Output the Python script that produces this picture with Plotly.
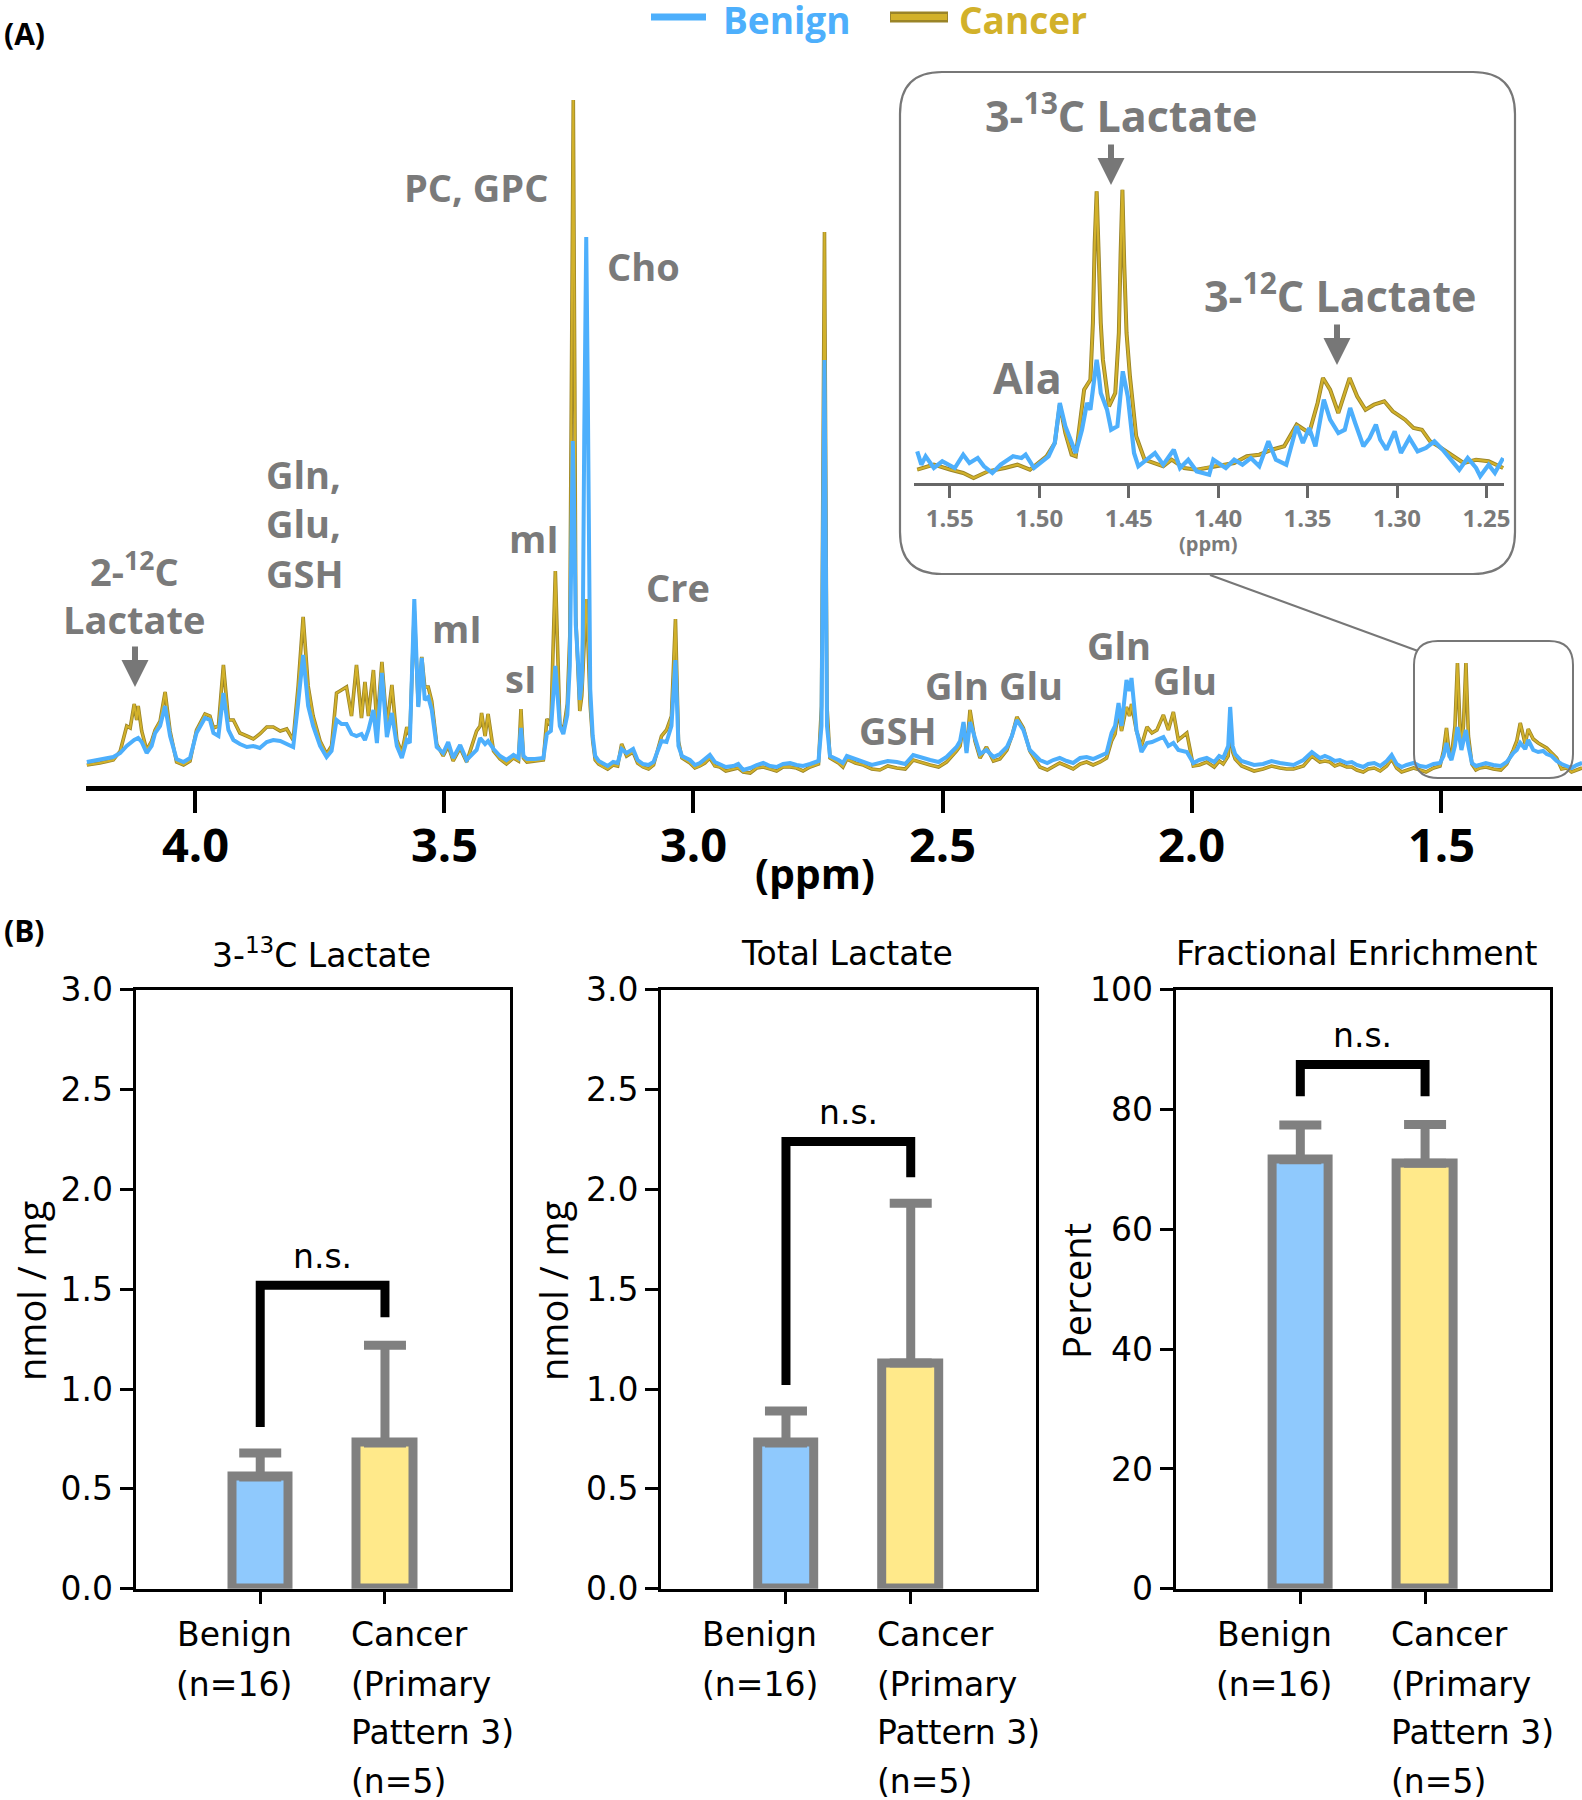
import plotly.graph_objects as go

W, H = 1582, 1800

# ---------------- data: 1H spectrum (ppm, intensity a.u.) ----------------
BENIGN_MAIN = [
    (4.217, 24), (4.191, 26), (4.164, 29), (4.150, 33), (4.137, 40), (4.122, 46), (4.114, 48), (4.107, 44),
    (4.097, 33), (4.087, 40), (4.080, 53), (4.070, 60), (4.060, 80), (4.050, 50), (4.037, 27), (4.023, 24),
    (4.010, 28), (3.997, 53), (3.980, 68), (3.970, 66), (3.963, 53), (3.953, 50), (3.943, 93), (3.933, 56),
    (3.923, 46), (3.910, 42), (3.896, 39), (3.883, 40), (3.870, 38), (3.856, 44), (3.843, 46), (3.829, 45),
    (3.816, 42), (3.803, 39), (3.793, 83), (3.783, 131), (3.773, 80), (3.763, 60), (3.749, 40), (3.736, 29),
    (3.726, 35), (3.716, 66), (3.706, 62), (3.696, 62), (3.686, 52), (3.676, 50), (3.666, 52), (3.659, 46),
    (3.652, 56), (3.642, 76), (3.635, 43), (3.625, 113), (3.615, 49), (3.605, 73), (3.595, 40), (3.585, 28),
    (3.575, 46), (3.569, 43), (3.560, 187), (3.552, 79), (3.545, 128), (3.539, 86), (3.532, 89), (3.525, 76),
    (3.515, 39), (3.502, 33), (3.492, 44), (3.482, 28), (3.468, 41), (3.455, 26), (3.435, 36),
    (3.428, 48), (3.418, 42), (3.412, 45), (3.401, 37), (3.388, 30), (3.375, 26), (3.361, 31), (3.351, 28),
    (3.346, 58), (3.341, 30), (3.334, 27), (3.318, 27), (3.301, 28), (3.294, 52), (3.286, 55), (3.277, 120),
    (3.268, 60), (3.261, 52), (3.253, 71), (3.248, 120), (3.244, 250), (3.242, 345), (3.240, 300), (3.236, 161),
    (3.231, 120), (3.228, 86), (3.224, 104), (3.222, 150), (3.219, 350), (3.215, 549), (3.212, 400), (3.207, 97),
    (3.202, 50), (3.197, 30), (3.190, 25), (3.181, 22), (3.172, 20), (3.161, 24), (3.152, 23), (3.144, 37),
    (3.134, 33), (3.121, 37), (3.112, 26), (3.101, 22), (3.090, 21), (3.080, 24), (3.064, 45), (3.054, 44),
    (3.044, 60), (3.036, 126), (3.030, 40), (3.023, 30), (3.007, 26), (2.997, 21), (2.987, 23), (2.977, 27),
    (2.967, 31), (2.957, 24), (2.947, 22), (2.935, 19), (2.920, 20), (2.910, 22), (2.900, 16), (2.886, 18),
    (2.873, 21), (2.860, 23), (2.846, 20), (2.833, 19), (2.820, 22), (2.806, 23), (2.793, 21), (2.780, 20),
    (2.766, 22), (2.749, 25), (2.743, 60), (2.737, 426), (2.732, 60), (2.726, 30), (2.709, 26), (2.700, 23),
    (2.692, 30), (2.675, 27), (2.659, 24), (2.642, 21), (2.626, 23), (2.610, 25), (2.592, 24), (2.575, 22),
    (2.559, 31), (2.540, 28), (2.525, 26), (2.508, 24), (2.492, 29), (2.472, 39), (2.465, 45), (2.458, 64),
    (2.452, 33), (2.445, 64), (2.435, 49), (2.425, 32), (2.412, 36), (2.398, 29), (2.385, 32), (2.371, 39),
    (2.361, 50), (2.351, 66), (2.338, 56), (2.325, 36), (2.305, 26), (2.290, 23), (2.278, 26), (2.265, 28),
    (2.251, 25), (2.238, 23), (2.224, 28), (2.211, 29), (2.198, 27), (2.184, 30), (2.171, 33), (2.161, 53),
    (2.154, 60), (2.147, 83), (2.141, 60), (2.131, 106), (2.125, 95), (2.121, 108), (2.111, 56), (2.101, 34),
    (2.090, 43), (2.080, 44), (2.070, 46), (2.057, 49), (2.047, 40), (2.037, 43), (2.027, 36), (2.010, 34),
    (1.997, 23), (1.985, 26), (1.970, 28), (1.955, 24), (1.945, 30), (1.937, 28), (1.927, 40), (1.923, 79),
    (1.918, 40), (1.913, 32), (1.900, 25), (1.890, 23), (1.875, 21), (1.857, 22), (1.840, 25), (1.823, 23),
    (1.810, 22), (1.796, 21), (1.776, 26), (1.759, 34), (1.743, 28), (1.733, 30), (1.723, 28), (1.713, 25),
    (1.703, 26), (1.689, 23), (1.679, 24), (1.669, 21), (1.656, 19), (1.646, 22), (1.634, 23), (1.622, 20),
    (1.609, 25), (1.599, 31), (1.589, 22), (1.579, 19), (1.569, 21), (1.555, 23), (1.542, 20), (1.530, 19),
    (1.515, 22), (1.502, 23), (1.495, 30), (1.489, 43), (1.483, 30), (1.479, 26), (1.472, 40), (1.467, 59),
    (1.462, 45), (1.459, 36), (1.455, 45), (1.450, 56), (1.445, 40), (1.438, 23), (1.430, 20), (1.422, 21),
    (1.410, 23), (1.395, 21), (1.380, 20), (1.368, 24), (1.355, 33), (1.348, 36), (1.341, 43), (1.331, 37),
    (1.325, 46), (1.315, 36), (1.305, 34), (1.295, 35), (1.288, 32), (1.278, 30), (1.268, 25), (1.258, 22),
    (1.248, 20), (1.238, 18), (1.228, 21), (1.217, 23),
]

CANCER_MAIN = [
    (4.217, 21), (4.191, 23), (4.164, 26), (4.150, 35), (4.137, 60), (4.130, 58), (4.122, 82), (4.117, 66),
    (4.114, 80), (4.107, 55), (4.097, 36), (4.087, 45), (4.080, 56), (4.070, 65), (4.060, 94), (4.050, 55),
    (4.037, 24), (4.023, 21), (4.010, 25), (3.997, 56), (3.980, 72), (3.970, 70), (3.963, 58), (3.953, 60),
    (3.943, 121), (3.933, 66), (3.923, 66), (3.910, 53), (3.896, 50), (3.883, 47), (3.870, 52), (3.856, 59),
    (3.843, 59), (3.829, 55), (3.816, 57), (3.803, 46), (3.793, 100), (3.783, 169), (3.773, 100), (3.763, 70),
    (3.749, 45), (3.736, 32), (3.726, 40), (3.716, 93), (3.706, 96), (3.696, 99), (3.686, 70), (3.676, 121),
    (3.666, 68), (3.659, 104), (3.652, 70), (3.642, 116), (3.635, 60), (3.625, 124), (3.615, 60), (3.605, 101),
    (3.595, 46), (3.585, 33), (3.575, 59), (3.569, 50), (3.560, 175), (3.552, 80), (3.545, 129), (3.539, 99),
    (3.532, 99), (3.525, 85), (3.515, 42), (3.502, 30), (3.492, 40), (3.482, 25), (3.468, 38), (3.455, 24),
    (3.435, 55), (3.428, 60), (3.425, 73), (3.418, 50), (3.412, 72), (3.405, 45), (3.401, 35), (3.388, 27),
    (3.375, 22), (3.361, 28), (3.351, 25), (3.346, 77), (3.341, 28), (3.334, 24), (3.318, 25), (3.301, 26),
    (3.294, 67), (3.286, 60), (3.277, 215), (3.268, 62), (3.261, 55), (3.253, 82), (3.248, 150), (3.244, 450),
    (3.241, 686), (3.238, 400), (3.236, 169), (3.231, 110), (3.228, 75), (3.224, 90), (3.219, 150), (3.215, 187),
    (3.212, 150), (3.207, 80), (3.202, 45), (3.197, 26), (3.190, 22), (3.181, 19), (3.172, 17), (3.161, 21),
    (3.152, 20), (3.144, 42), (3.134, 30), (3.121, 34), (3.112, 23), (3.101, 19), (3.090, 17), (3.080, 21),
    (3.064, 50), (3.054, 56), (3.044, 70), (3.036, 167), (3.030, 45), (3.023, 28), (3.007, 23), (2.997, 18),
    (2.987, 20), (2.977, 23), (2.967, 28), (2.957, 20), (2.947, 19), (2.935, 15), (2.920, 17), (2.910, 18),
    (2.900, 14), (2.886, 13), (2.873, 18), (2.860, 19), (2.846, 17), (2.833, 15), (2.820, 19), (2.806, 19),
    (2.793, 18), (2.780, 15), (2.766, 19), (2.749, 22), (2.743, 80), (2.737, 554), (2.732, 80), (2.726, 28),
    (2.709, 23), (2.700, 19), (2.692, 27), (2.675, 23), (2.659, 21), (2.642, 17), (2.626, 16), (2.610, 20),
    (2.592, 18), (2.575, 17), (2.559, 26), (2.540, 23), (2.525, 21), (2.508, 19), (2.492, 24), (2.472, 35),
    (2.465, 40), (2.458, 62), (2.452, 35), (2.445, 76), (2.435, 45), (2.425, 28), (2.412, 39), (2.398, 25),
    (2.385, 27), (2.371, 36), (2.361, 50), (2.351, 69), (2.338, 58), (2.325, 35), (2.305, 19), (2.290, 16),
    (2.278, 19), (2.265, 23), (2.251, 20), (2.238, 17), (2.224, 22), (2.211, 24), (2.198, 21), (2.184, 24),
    (2.171, 28), (2.161, 45), (2.154, 52), (2.147, 76), (2.141, 55), (2.131, 79), (2.125, 70), (2.121, 82),
    (2.111, 55), (2.101, 40), (2.090, 59), (2.080, 53), (2.070, 56), (2.057, 71), (2.047, 56), (2.037, 74),
    (2.027, 46), (2.010, 53), (1.997, 20), (1.985, 21), (1.970, 24), (1.955, 19), (1.945, 25), (1.937, 22),
    (1.927, 30), (1.923, 66), (1.918, 34), (1.913, 27), (1.900, 20), (1.890, 18), (1.875, 15), (1.857, 17),
    (1.840, 20), (1.823, 18), (1.810, 17), (1.796, 17), (1.776, 20), (1.759, 30), (1.743, 24), (1.733, 25),
    (1.723, 24), (1.713, 20), (1.703, 22), (1.689, 19), (1.679, 19), (1.669, 16), (1.656, 14), (1.646, 17),
    (1.634, 18), (1.622, 15), (1.609, 20), (1.599, 27), (1.589, 18), (1.579, 14), (1.569, 16), (1.555, 18),
    (1.542, 16), (1.530, 14), (1.515, 18), (1.502, 20), (1.495, 35), (1.489, 58), (1.483, 30), (1.479, 30),
    (1.472, 60), (1.467, 123), (1.462, 60), (1.459, 42), (1.455, 60), (1.450, 123), (1.445, 50), (1.438, 22),
    (1.430, 16), (1.422, 18), (1.410, 19), (1.395, 17), (1.380, 16), (1.368, 22), (1.355, 36), (1.348, 45),
    (1.341, 63), (1.331, 42), (1.325, 57), (1.315, 47), (1.305, 43), (1.295, 40), (1.288, 38), (1.278, 33),
    (1.268, 28), (1.258, 17), (1.248, 18), (1.238, 14), (1.228, 16), (1.217, 18),
]

BENIGN_INSET = [
    (1.5682, 31.7), (1.5659, 18.3), (1.5635, 26.7), (1.5589, 15), (1.5542, 21.7), (1.5507, 18.3), (1.5472, 15),
    (1.5425, 28.3), (1.5390, 20), (1.5344, 25), (1.5309, 16.7), (1.5262, 10), (1.5216, 18.3), (1.5146, 26.7),
    (1.5099, 25), (1.5076, 28.3), (1.5029, 15), (1.4983, 21.7), (1.4948, 26.7), (1.4913, 40), (1.4885, 80),
    (1.4854, 56.7), (1.4819, 40), (1.4796, 30), (1.4761, 53.3), (1.4733, 80), (1.4714, 73.3), (1.4690, 105),
    (1.4679, 123.3), (1.4668, 110), (1.4656, 90), (1.4621, 73.3), (1.4598, 53.3), (1.4563, 56.7), (1.4533, 111.7),
    (1.4505, 86.7), (1.4470, 30), (1.4446, 16.7), (1.4400, 23.3), (1.4353, 30), (1.4307, 18.3), (1.4248, 33.3),
    (1.4213, 15), (1.4167, 23.3), (1.4120, 11.7), (1.4050, 8.3), (1.4027, 23.3), (1.3957, 15), (1.3910, 23.3),
    (1.3864, 18.3), (1.3817, 25), (1.3770, 16.7), (1.3719, 41.7), (1.3677, 23.3), (1.3619, 18.3), (1.3561, 56.7),
    (1.3526, 40), (1.3491, 55), (1.3456, 36.7), (1.3409, 83.3), (1.3374, 63.3), (1.3328, 50), (1.3292, 53.3),
    (1.3262, 75), (1.3234, 60), (1.3188, 36.7), (1.3153, 45), (1.3118, 58.3), (1.3094, 43.3), (1.3059, 33.3),
    (1.3013, 51.7), (1.2978, 30), (1.2931, 45), (1.2885, 31.7), (1.2838, 35), (1.2791, 41.7), (1.2745, 33.3),
    (1.2698, 23.3), (1.2652, 13.3), (1.2605, 25), (1.2558, 15), (1.2535, 6.7), (1.2488, 18.3), (1.2453, 10),
    (1.2407, 25),
]

CANCER_INSET = [
    (1.5682, 13.3), (1.5589, 18.3), (1.5495, 13.3), (1.5425, 10), (1.5367, 5), (1.5286, 11.7), (1.5192, 15),
    (1.5122, 18.3), (1.5052, 13.3), (1.4959, 26.7), (1.4913, 40), (1.4885, 78.3), (1.4854, 50), (1.4819, 28.3),
    (1.4796, 26.7), (1.4749, 93.3), (1.4714, 103.3), (1.4700, 160), (1.4690, 240), (1.4679, 291.7), (1.4668, 230),
    (1.4656, 160), (1.4644, 123.3), (1.4610, 76.7), (1.4575, 90), (1.4555, 150), (1.4545, 230), (1.4535, 293.3),
    (1.4525, 220), (1.4512, 150), (1.4493, 106.7), (1.4458, 46.7), (1.4411, 23.3), (1.4307, 16.7), (1.4260, 23.3),
    (1.4190, 15), (1.4120, 13.3), (1.4027, 16.7), (1.3910, 20), (1.3840, 26.7), (1.3770, 28.3), (1.3700, 33.3),
    (1.3631, 36.7), (1.3561, 58.3), (1.3491, 50), (1.3444, 80), (1.3414, 105), (1.3374, 93.3), (1.3328, 70),
    (1.3265, 105), (1.3223, 86.7), (1.3176, 73.3), (1.3129, 78.3), (1.3071, 81.7), (1.3024, 71.7), (1.2955, 63.3),
    (1.2908, 55), (1.2861, 53.3), (1.2815, 41.7), (1.2768, 36.7), (1.2698, 28.3), (1.2628, 20), (1.2558, 23.3),
    (1.2488, 21.7), (1.2407, 15),
]

SPEC_TICKS = [4.0, 3.5, 3.0, 2.5, 2.0, 1.5]
INSET_TICKS = [1.55, 1.50, 1.45, 1.40, 1.35, 1.30, 1.25]

# ---------------- data: bar panels ----------------
GROUP_X = [0, 1]
BENIGN_LABEL = ["Benign", "(n=16)"]
CANCER_LABEL = ["Cancer", "(Primary", "Pattern 3)", "(n=5)"]

LACT13_MEAN = [0.56, 0.73]
LACT13_ERR = [0.12, 0.49]
LACT13_BRACKET = [0.81, 1.52, 1.36]   # left leg bottom, top, right leg bottom

TOTAL_MEAN = [0.73, 1.13]
TOTAL_ERR = [0.16, 0.80]
TOTAL_BRACKET = [1.02, 2.24, 2.06]

FE_MEAN = [71.6, 71.0]
FE_ERR = [5.8, 6.5]
FE_BRACKET = [82.2, 87.5, 82.2]

Y_TICKS_NMOL = [0, 0.5, 1.0, 1.5, 2.0, 2.5, 3.0]
Y_TICKS_PCT = [0, 20, 40, 60, 80, 100]

# ---------------- styles ----------------
BLUE = "#4DAFFC"
GOLD = "#D2B12A"
GOLD_DARK = "#9A8428"
GRAY_TXT = "#7A7A7A"
BAR_GRAY = "#808080"
FILL_BLUE = "#8FC9FD"
FILL_YELLOW = "#FFE98A"

LBL_FONT = "Open Sans, sans-serif"
BOLD_FONT = "Open Sans, sans-serif"
BAR_FONT = "DejaVu Sans, sans-serif"
NARROW_FONT = "Open Sans, sans-serif"


def px(x):
    return x / W


def py(y):
    return 1 - y / H


def unzip(pairs):
    xs = [p[0] for p in pairs]
    ys = [p[1] for p in pairs]
    return xs, ys


fig = go.Figure()

# ---- main spectrum
cx, cy = unzip(CANCER_MAIN)
bx, by = unzip(BENIGN_MAIN)
fig.add_trace(go.Scatter(x=cx, y=cy, mode="lines", line=dict(color=GOLD_DARK, width=3.6),
                         xaxis="x", yaxis="y", showlegend=False, hoverinfo="skip"))
fig.add_trace(go.Scatter(x=cx, y=cy, mode="lines", line=dict(color=GOLD, width=2.0),
                         xaxis="x", yaxis="y", showlegend=False, name="Cancer"))
fig.add_trace(go.Scatter(x=bx, y=by, mode="lines", line=dict(color=BLUE, width=4.0),
                         xaxis="x", yaxis="y", showlegend=False, name="Benign"))

# ---- inset
icx, icy = unzip(CANCER_INSET)
ibx, iby = unzip(BENIGN_INSET)
fig.add_trace(go.Scatter(x=icx, y=icy, mode="lines", line=dict(color=GOLD_DARK, width=4.0),
                         xaxis="x2", yaxis="y2", showlegend=False, hoverinfo="skip"))
fig.add_trace(go.Scatter(x=icx, y=icy, mode="lines", line=dict(color=GOLD, width=2.2),
                         xaxis="x2", yaxis="y2", showlegend=False))
fig.add_trace(go.Scatter(x=ibx, y=iby, mode="lines", line=dict(color=BLUE, width=4.2),
                         xaxis="x2", yaxis="y2", showlegend=False))

# ---- bar panels
panels = [
    ("x3", "y3", LACT13_MEAN, LACT13_ERR, LACT13_BRACKET),
    ("x4", "y4", TOTAL_MEAN, TOTAL_ERR, TOTAL_BRACKET),
    ("x5", "y5", FE_MEAN, FE_ERR, FE_BRACKET),
]
for xa, ya, mean, err, br in panels:
    fig.add_trace(go.Bar(
        x=GROUP_X, y=mean, width=0.45, xaxis=xa, yaxis=ya, showlegend=False,
        marker=dict(color=[FILL_BLUE, FILL_YELLOW], line=dict(color=BAR_GRAY, width=9)),
        error_y=dict(type="data", symmetric=False, array=err, arrayminus=[0, 0],
                     color=BAR_GRAY, thickness=9, width=21),
    ))

layout = dict(
    width=W, height=H,
    margin=dict(l=0, r=0, t=0, b=0, pad=0, autoexpand=False),
    paper_bgcolor="white", plot_bgcolor="white",
    showlegend=False,
    bargap=0,
)

layout["xaxis"] = dict(
    domain=[px(86), 1.0], range=[4.2187, 1.2171], anchor="y", automargin=False,
    showline=True, linecolor="black", linewidth=5, showgrid=False, zeroline=False,
    ticks="outside", ticklen=22, tickwidth=4, tickcolor="black",
    tickvals=SPEC_TICKS, showticklabels=False,
)
layout["yaxis"] = dict(domain=[py(786), py(66)], range=[0, 720], visible=False, anchor="x",
                       automargin=False)

layout["xaxis2"] = dict(
    domain=[px(914), px(1504)], range=[1.570, 1.2402], anchor="y2", automargin=False,
    showline=True, linecolor="#666666", linewidth=2.5, showgrid=False, zeroline=False,
    ticks="outside", ticklen=12, tickwidth=2.5, tickcolor="#666666",
    tickvals=INSET_TICKS, ticktext=[f"{v:.2f}" for v in INSET_TICKS],
    tickfont=dict(family=BOLD_FONT, size=24, color=GRAY_TXT, weight="bold"),
)
layout["yaxis2"] = dict(domain=[py(483), py(163)], range=[0, 320], visible=False, anchor="x2",
                        automargin=False)

bar_domains = [(135.5, 509.7), (661.2, 1035.5), (1175.6, 1549.8)]
y_dom = [py(1588.8), py(989.6)]
for i, (x0, x1) in enumerate(bar_domains):
    n = i + 3
    layout[f"xaxis{n}"] = dict(
        domain=[px(x0), px(x1)], range=[-1, 2], anchor=f"y{n}", automargin=False,
        showline=True, mirror=True, linecolor="black", linewidth=3,
        showgrid=False, zeroline=False, ticks="outside", ticklen=12, tickwidth=3, tickcolor="black",
        tickvals=GROUP_X, ticktext=["", ""],
    )
    if n < 5:
        tv, tt, rng = Y_TICKS_NMOL, [f"{v:.1f}" for v in Y_TICKS_NMOL], [0, 3]
    else:
        tv, tt, rng = Y_TICKS_PCT, [str(v) for v in Y_TICKS_PCT], [0, 100]
    layout[f"yaxis{n}"] = dict(
        domain=y_dom, range=rng, anchor=f"x{n}", automargin=False,
        showline=True, mirror=True, linecolor="black", linewidth=3,
        showgrid=False, zeroline=False, ticks="outside", ticklen=13, tickwidth=3, tickcolor="black",
        tickvals=tv, ticktext=tt,
        tickfont=dict(family=BAR_FONT, size=33, color="black"),
    )

fig.update_layout(**layout)

# ---------------- shapes ----------------
def rrect(x0, y0, x1, y1, r):
    X, Y = px, py
    return (f"M {X(x0 + r)},{Y(y0)} L {X(x1 - r)},{Y(y0)} Q {X(x1)},{Y(y0)} {X(x1)},{Y(y0 + r)} "
            f"L {X(x1)},{Y(y1 - r)} Q {X(x1)},{Y(y1)} {X(x1 - r)},{Y(y1)} "
            f"L {X(x0 + r)},{Y(y1)} Q {X(x0)},{Y(y1)} {X(x0)},{Y(y1 - r)} "
            f"L {X(x0)},{Y(y0 + r)} Q {X(x0)},{Y(y0)} {X(x0 + r)},{Y(y0)} Z")


shapes = [
    dict(type="path", xref="paper", yref="paper", path=rrect(900, 72, 1515, 574, 42),
         line=dict(color="#777777", width=2.2), layer="below"),
    dict(type="path", xref="paper", yref="paper", path=rrect(1414, 641, 1573, 778, 24),
         line=dict(color="#777777", width=2.0)),
    dict(type="line", xref="paper", yref="paper", x0=px(1210), y0=py(575), x1=px(1418), y1=py(651),
         line=dict(color="#777777", width=2.0)),
    # legend glyphs
    dict(type="line", xref="paper", yref="paper", x0=px(651), x1=px(706), y0=py(17), y1=py(17),
         line=dict(color=BLUE, width=7)),
    dict(type="line", xref="paper", yref="paper", x0=px(890), x1=px(948), y0=py(17), y1=py(17),
         line=dict(color=GOLD_DARK, width=11)),
    dict(type="line", xref="paper", yref="paper", x0=px(891), x1=px(947), y0=py(17), y1=py(17),
         line=dict(color=GOLD, width=6)),
]
for xa, ya, mean, err, br in panels:
    shapes.append(dict(
        type="path", xref=xa, yref=ya,
        path=f"M {GROUP_X[0]},{br[0]} L {GROUP_X[0]},{br[1]} L {GROUP_X[1]},{br[1]} L {GROUP_X[1]},{br[2]}",
        line=dict(color="black", width=9),
    ))
fig.update_layout(shapes=shapes)

# ---------------- annotations ----------------
ann = []


def lbl(text, x, y, size=38, color=GRAY_TXT, family=LBL_FONT, xanchor="center", bold=True, angle=0):
    ann.append(dict(text=text, x=px(x), y=py(y), xref="paper", yref="paper", showarrow=False,
                    xanchor=xanchor, yanchor="middle", textangle=angle,
                    font=dict(family=family, size=size, color=color, weight="bold" if bold else "normal")))


def arrow(x, y_tip, length):
    ann.append(dict(text="", x=px(x), y=py(y_tip), xref="paper", yref="paper", showarrow=True,
                    ax=0, ay=-length, arrowhead=2, arrowsize=0.9, arrowwidth=6, arrowcolor="#777777",
                    standoff=0))


lbl("(A)", 25, 34, size=30, color="black", family=BOLD_FONT)
lbl("(B)", 25, 930, size=30, color="black", family=BOLD_FONT)

# legend text
lbl("Benign", 787, 20, size=37, color=BLUE, family=BOLD_FONT)
lbl("Cancer", 1023, 20, size=37, color=GOLD, family=BOLD_FONT)

# main spectrum tick labels (placed on the data axis)
for v in SPEC_TICKS:
    ann.append(dict(text=f"{v:.1f}", x=v, xref="x", y=py(844), yref="paper", showarrow=False,
                    xanchor="center", yanchor="middle",
                    font=dict(family=BOLD_FONT, size=47, color="black", weight="bold")))

# spectrum labels
lbl("PC, GPC", 476, 187)
lbl("Cho", 643, 266)
lbl("Gln,", 264, 474, xanchor="left")
lbl("Glu,", 264, 523, xanchor="left")
lbl("GSH", 264, 573, xanchor="left")
lbl("mI", 534, 538)
lbl("mI", 457, 628)
lbl("sI", 520, 678)
lbl("Cre", 678, 587)
lbl("2-<sup>12</sup>C", 134, 569)
lbl("Lactate", 134, 619)
lbl("GSH", 898, 730)
lbl("Gln Glu", 994, 685)
lbl("Gln", 1119, 645)
lbl("Glu", 1185, 680)
arrow(135, 687, 42)

# inset labels
lbl("3-<sup>13</sup>C Lactate", 1121, 113, size=43)
lbl("3-<sup>12</sup>C Lactate", 1340, 293, size=43)
lbl("Ala", 1027, 377, size=43)
arrow(1111, 185, 42)
arrow(1337, 365, 42)
lbl("(ppm)", 1208, 544, size=20, color=GRAY_TXT, family=BOLD_FONT)

# main x-axis title
lbl("(ppm)", 815, 873, size=41, color="black", family=BOLD_FONT)

# bar panel titles and y titles
titles = ["3-<sup>13</sup>C Lactate", "Total Lactate", "Fractional Enrichment"]
title_x = [321, 847, 1357]
ytitles = ["nmol / mg", "nmol / mg", "Percent"]
ytitle_x = [31, 553, 1076]
for i in range(3):
    lbl(titles[i], title_x[i], 953, size=33, color="black", family=BAR_FONT, bold=False)
    lbl(ytitles[i], ytitle_x[i], 1291, size=38, color="black", family=NARROW_FONT, bold=False, angle=-90)

line_y = [1634, 1684, 1732, 1781]
for i, (xa, ya, mean, err, br) in enumerate(panels):
    for j, t in enumerate(BENIGN_LABEL):
        ann.append(dict(text=t, x=GROUP_X[0], xref=xa, y=py(line_y[j]), yref="paper", showarrow=False,
                        xanchor="center", yanchor="middle", xshift=-26,
                        font=dict(family=BAR_FONT, size=33, color="black")))
    for j, t in enumerate(CANCER_LABEL):
        ann.append(dict(text=t, x=GROUP_X[1], xref=xa, y=py(line_y[j]), yref="paper", showarrow=False,
                        xanchor="left", yanchor="middle", xshift=-36,
                        font=dict(family=BAR_FONT, size=33, color="black")))
    ann.append(dict(text="n.s.", x=0.5 * (GROUP_X[0] + GROUP_X[1]), xref=xa, y=br[1], yref=ya,
                    showarrow=False, xanchor="center", yanchor="middle", yshift=29,
                    font=dict(family=BAR_FONT, size=33, color="black")))

fig.update_layout(annotations=ann)

fig.write_html(
    "out.html",
    config={"displayModeBar": False},
    post_script="document.body.style.margin='0px'; document.body.style.overflow='hidden';",
)
